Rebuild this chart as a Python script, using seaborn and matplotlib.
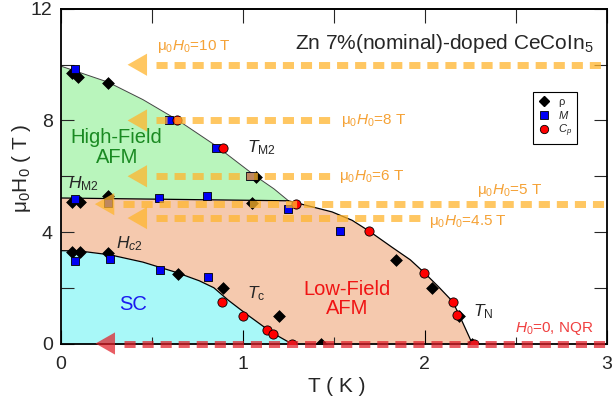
import numpy as np
import pandas as pd
import matplotlib
matplotlib.use("Agg")
import matplotlib.pyplot as plt
import seaborn as sns
from matplotlib.ticker import MultipleLocator, FuncFormatter
from matplotlib.lines import Line2D

# ---------------- data ----------------
rho_T = [0.06, 0.093, 0.257, 1.07, 0.06, 0.104, 0.257, 1.05, 0.06, 0.104, 0.257,
         0.645, 0.89, 1.197, 1.43, 1.84, 2.04, 2.186, 2.26]
rho_H = [9.71, 9.57, 9.35, 5.98, 5.07, 5.07, 5.3, 5.04, 3.3, 3.3, 3.24,
         2.5, 2.0, 1.0, 0.0, 3.0, 2.0, 1.0, 0.0]

M_T = [0.077, 0.596, 0.852, 1.04, 0.077, 0.26, 0.54, 0.80, 1.247, 1.535,
       0.077, 0.268, 0.546, 0.81]
M_H = [9.86, 8.02, 7.02, 6.02, 5.18, 5.05, 5.22, 5.3, 4.82, 4.03,
       2.95, 3.02, 2.63, 2.37]

Cp_T = [0.64, 0.89, 1.29, 0.883, 1.0, 1.133, 1.166, 1.267, 1.694, 1.995, 2.153, 2.175, 2.27]
Cp_H = [8.02, 7.02, 5.0, 1.49, 1.0, 0.48, 0.33, 0.0, 4.03, 2.52, 1.5, 1.04, 0.0]

# phase boundaries
TM2_T = [0.0, 0.257, 0.45, 0.64, 0.85, 1.0, 1.07, 1.17, 1.25]
TM2_H = [9.95, 9.38, 8.75, 8.02, 7.1, 6.35, 6.0, 5.55, 5.12]
HM2_T = [0.0, 1.25]
HM2_H = [5.22, 5.12]
TN_T = [1.25, 1.31, 1.49, 1.6, 1.694, 1.82, 1.92, 2.0, 2.08, 2.153, 2.2, 2.26]
TN_H = [5.12, 5.02, 4.72, 4.42, 4.03, 3.45, 3.0, 2.52, 2.0, 1.5, 0.86, 0.0]
Hc2_T = [0.0, 0.1, 0.27, 0.45, 0.634, 0.76, 0.84, 0.92, 1.02, 1.14, 1.2, 1.265]
Hc2_H = [3.33, 3.32, 3.18, 2.92, 2.55, 2.25, 2.0, 1.55, 1.05, 0.48, 0.24, 0.0]

# field-sweep arrows
arrow_H = [10, 8, 6, 5, 4.5]
arrow_tip = [0.366, 0.366, 0.366, 0.186, 0.366]
arrow_end = [3.0, 1.49, 1.49, 3.0, 1.99]
arrow_lbl = [r"μ$_0$$H_0$=10 T", r"μ$_0$$H_0$=8 T", r"μ$_0$$H_0$=6 T",
             r"μ$_0$$H_0$=5 T", r"μ$_0$$H_0$=4.5 T"]
arrow_lbl_T = [0.53, 1.537, 1.527, 2.285, 2.02]
arrow_lbl_H = [10.65, 8.0, 6.0, 5.5, 4.36]
nqr_H = 0.0
nqr_tip = 0.19
nqr_end = 3.0

# ---------------- style ----------------
sns.set_style("ticks")
plt.rcParams['font.family'] = ['Liberation Sans', 'DejaVu Sans']
plt.rcParams['mathtext.fontset'] = 'custom'
plt.rcParams['mathtext.rm'] = 'Liberation Sans'
plt.rcParams['mathtext.it'] = 'Liberation Sans:italic'
plt.rcParams['mathtext.bf'] = 'Liberation Sans:bold'

fig = plt.figure(figsize=(6.13, 4.07), dpi=100)
ax = fig.add_axes([0.0995, 0.156, 0.8905, 0.8219])
ax.set_xlim(0, 3)
ax.set_ylim(0, 12)

c_green = '#B9F5BC'
c_peach = '#F5C9AE'
c_cyan = '#A8F8F8'

# regions
ax.fill_between(Hc2_T, 0, Hc2_H, color=c_cyan, lw=0, zorder=0.5)
ax.fill(TM2_T + HM2_T[::-1], TM2_H + HM2_H[::-1], color=c_green, lw=0, zorder=0.5)
ax.fill(HM2_T + TN_T + Hc2_T[::-1], HM2_H + TN_H + Hc2_H[::-1], color=c_peach, lw=0, zorder=0.5)

# boundary lines
ax.plot(TM2_T, TM2_H, color='#444444', lw=0.7, zorder=1.5)
ax.plot(HM2_T, HM2_H, color='black', lw=0.9, zorder=1.5)
ax.plot(TN_T, TN_H, color='black', lw=0.9, zorder=1.5)
ax.plot(Hc2_T, Hc2_H, color='black', lw=0.9, zorder=1.5)

# data points
sns.scatterplot(x=rho_T, y=rho_H, marker='D', s=36, color='black', edgecolor='black',
                linewidth=0.5, ax=ax, zorder=3, legend=False)
sns.scatterplot(x=M_T, y=M_H, marker='s', s=40, color='#0000F5', edgecolor='black',
                linewidth=0.6, ax=ax, zorder=3.1, legend=False)
sns.scatterplot(x=Cp_T, y=Cp_H, marker='o', s=44, color='#FF0000', edgecolor='black',
                linewidth=0.6, ax=ax, zorder=3.2, legend=False)

# arrows
c_or = '#FFB52E'
for H, tip, end in zip(arrow_H, arrow_tip, arrow_end):
    ax.plot([tip + 0.155, end], [H, H], color=c_or, lw=5, dashes=(1.6, 1.0),
            alpha=0.75, zorder=4)
    ax.annotate('', xy=(tip, H), xytext=(tip + 0.11, H),
                arrowprops=dict(arrowstyle='-|>,head_length=1.4,head_width=0.8',
                                color=c_or, alpha=0.75, lw=0, shrinkA=0, shrinkB=0),
                zorder=4)
for lbl, t, h in zip(arrow_lbl, arrow_lbl_T, arrow_lbl_H):
    ax.text(t, h, lbl, color='#F5A236', fontsize=11, ha='left', va='center', zorder=5)

c_red = '#E01E28'
ax.plot([nqr_tip + 0.155, nqr_end], [nqr_H, nqr_H], color=c_red, lw=5, dashes=(1.6, 1.0),
        alpha=0.72, zorder=4, clip_on=False)
ax.annotate('', xy=(nqr_tip, nqr_H), xytext=(nqr_tip + 0.11, nqr_H),
            arrowprops=dict(arrowstyle='-|>,head_length=1.4,head_width=0.8',
                            color=c_red, alpha=0.72, lw=0, shrinkA=0, shrinkB=0),
            zorder=4, annotation_clip=False)
ax.text(2.497, 0.55, r"$H_0$=0, NQR", color='#F04040', fontsize=11, ha='left', va='center', zorder=5)

# labels
ax.text(1.284, 10.55, r"Zn 7%(nominal)-doped CeCoIn$_5$", fontsize=15, ha='left',
        va='baseline', zorder=5)
ax.text(0.306, 7.04, "High-Field\nAFM", color='#1A8A22', fontsize=14.5, ha='center',
        va='center', linespacing=1.05, zorder=5)
ax.text(1.571, 1.6, "Low-Field\nAFM", color='#F01414', fontsize=14.5, ha='center',
        va='center', linespacing=1.05, zorder=5)
ax.text(0.394, 1.4, "SC", color='#1A1AF0', fontsize=14.5, ha='center', va='center', zorder=5)
ax.text(1.024, 6.87, r"$T_{\rm M2}$", fontsize=12.5, ha='left', va='baseline', zorder=5)
ax.text(0.038, 5.57, r"$H_{\rm M2}$", fontsize=12.5, ha='left', va='baseline', zorder=5)
ax.text(0.305, 3.43, r"$H_{c2}$", fontsize=12.5, ha='left', va='baseline', zorder=5)
ax.text(1.024, 1.63, r"$T_{\rm c}$", fontsize=12.5, ha='left', va='baseline', zorder=5)
ax.text(2.266, 0.99, r"$T_{\rm N}$", fontsize=12.5, ha='left', va='baseline', zorder=5)

# legend
handles = [Line2D([], [], ls='none', marker='D', ms=5.5, mfc='black', mec='black'),
           Line2D([], [], ls='none', marker='s', ms=5.5, mfc='#0000F5', mec='black', mew=0.6),
           Line2D([], [], ls='none', marker='o', ms=6, mfc='#FF0000', mec='black', mew=0.6)]
leg = ax.legend(handles, ["ρ", r"$M$", r"$C_p$"], loc='upper left',
                bbox_to_anchor=(0.865, 0.752), borderaxespad=0, fontsize=8,
                frameon=True, fancybox=False, edgecolor='black', framealpha=1,
                handlelength=1.0, handletextpad=0.8, labelspacing=0.15, borderpad=0.45)
leg.get_frame().set_linewidth(0.8)
leg.set_zorder(6)

# ticks and spines
ax.xaxis.set_major_locator(MultipleLocator(1))
ax.xaxis.set_minor_locator(MultipleLocator(0.5))
ax.yaxis.set_major_locator(MultipleLocator(2))
ax.yaxis.set_major_formatter(FuncFormatter(lambda v, p: f"{v:g}" if abs(v % 4) < 1e-9 else ""))
ax.tick_params(axis='x', which='major', direction='in', length=10, width=0.8, top=False,
               labelsize=14, pad=9, color='black')
ax.tick_params(axis='x', which='minor', direction='in', length=5, width=0.8, top=False)
ax.tick_params(axis='y', which='major', direction='in', length=9.5, width=0.8, right=True,
               labelsize=14, pad=6)
sec = ax.secondary_xaxis('top')
sec.set_xticks(np.arange(0, 3.01, 0.5))
sec.tick_params(direction='in', length=10, width=0.8, labeltop=False)
for sp in ax.spines.values():
    sp.set_linewidth(1.3)
    sp.set_color('black')
sec.spines['top'].set_linewidth(1.3)

ax.set_xlabel("T ( K )", fontsize=15)
ax.set_ylabel("μ$_0$H$_0$ ( T )", fontsize=15)
ax.xaxis.set_label_coords(0.505, -0.1)
ax.yaxis.set_label_coords(-0.052, 0.525)

fig.savefig("out.png", dpi=100)
